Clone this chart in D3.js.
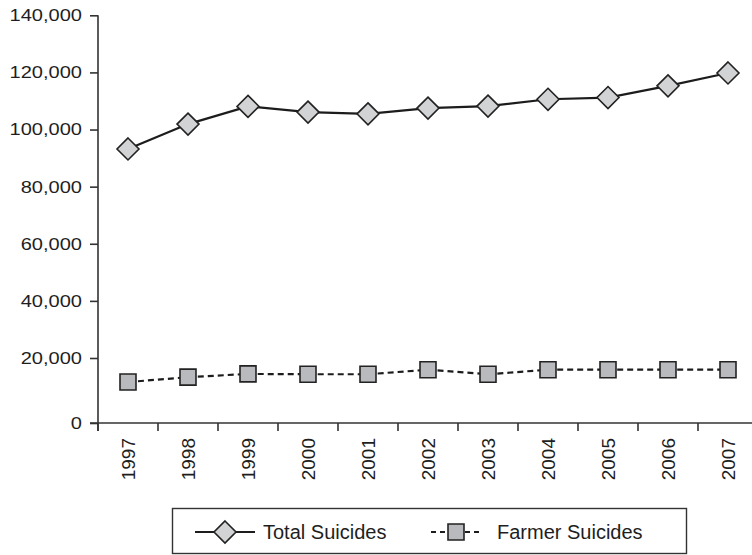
<!DOCTYPE html>
<html>
<head>
<meta charset="utf-8">
<script src="https://cdn.jsdelivr.net/npm/d3@7"></script>
<style>
  html, body { margin: 0; padding: 0; background: #fff; }
  svg { display: block; font-family: "Liberation Sans", Arial, Helvetica, sans-serif; }
</style>
</head>
<body>
<svg id="chart" width="752" height="555"></svg>
<script>
// Suicides in India, 1997–2007
const years = ["1997", "1998", "1999", "2000", "2001", "2002", "2003", "2004", "2005", "2006", "2007"];
const totalSuicides  = [93200, 101900, 108100, 106100, 105500, 107500, 108200, 110600, 111200, 115300, 119800];
const farmerSuicides = [12600, 14100, 15100, 15000, 15000, 16400, 15000, 16400, 16400, 16400, 16400];
const yTicks = [0, 20000, 40000, 60000, 80000, 100000, 120000, 140000];
const seriesNames = ["Total Suicides", "Farmer Suicides"];

const svg = d3.select("#chart");
const ink = "#1e1e1e";
const font = "'Liberation Sans', Arial, Helvetica, sans-serif";

const x = d3.scaleBand().domain(years).range([98, 758]).paddingInner(0).paddingOuter(0);
const bw = x.bandwidth();
const cx = d => x(d) + bw / 2;

// the lowest interval of the value axis is drawn slightly taller than the rest
const y = d3.scaleLinear().domain([0, 20000, 140000]).range([423, 358, 15.3]);

// value axis
const yAxis = d3.axisLeft(y)
  .tickValues(yTicks)
  .tickSize(8)
  .tickPadding(8)
  .tickFormat(d3.format(","));
const gy = svg.append("g").attr("transform", "translate(98,0)").call(yAxis)
  .attr("font-size", 17).attr("font-family", font);
gy.select(".domain").attr("stroke", "#333").attr("stroke-width", 1.6)
  .attr("d", `M0,${y(140000)}V${y(0) + 8}`);
gy.selectAll(".tick line").attr("stroke", "#333").attr("stroke-width", 1.6);
// the value labels are set a little wider than they are tall
gy.selectAll(".tick text")
  .attr("fill", ink)
  .attr("x", null)
  .attr("transform", "translate(-16,0) scale(1.18,1)");

// category axis: ticks sit on the band boundaries, labels in band centres
const gx = svg.append("g").attr("transform", `translate(0,${y(0)})`)
  .attr("font-size", 19).attr("font-family", font);
gx.append("line").attr("x1", 90).attr("x2", 758).attr("y1", 0).attr("y2", 0)
  .attr("stroke", "#333").attr("stroke-width", 1.6);
gx.selectAll("line.tick").data(years).join("line")
  .attr("class", "tick")
  .attr("x1", d => x(d)).attr("x2", d => x(d))
  .attr("y1", 0).attr("y2", 8)
  .attr("stroke", "#333").attr("stroke-width", 1.6);
gx.selectAll("text").data(years).join("text")
  .attr("transform", d => `translate(${cx(d)},15) rotate(-90)`)
  .attr("text-anchor", "end")
  .attr("dy", "0.35em")
  .attr("fill", ink)
  .text(d => d);

// lines
const line = d3.line().x(d => cx(d.year)).y(d => y(d.value));
const totalData = years.map((yr, i) => ({ year: yr, value: totalSuicides[i] }));
const farmerData = years.map((yr, i) => ({ year: yr, value: farmerSuicides[i] }));

svg.append("path").datum(totalData).attr("d", line)
  .attr("fill", "none").attr("stroke", "#1c1c1c").attr("stroke-width", 2.2);
svg.append("path").datum(farmerData).attr("d", line)
  .attr("fill", "none").attr("stroke", "#1c1c1c").attr("stroke-width", 2.2)
  .attr("stroke-dasharray", "6,4");

// markers
const diamond = r => `M0,${-r}L${r},0L0,${r}L${-r},0Z`;
const square = s => `M${-s / 2},${-s / 2}h${s}v${s}h${-s}Z`;

svg.selectAll("path.total").data(totalData).join("path")
  .attr("class", "total")
  .attr("transform", d => `translate(${cx(d.year)},${y(d.value)})`)
  .attr("d", diamond(11))
  .attr("fill", "#d2d3d5").attr("stroke", "#222").attr("stroke-width", 1.6);

svg.selectAll("path.farmer").data(farmerData).join("path")
  .attr("class", "farmer")
  .attr("transform", d => `translate(${cx(d.year)},${y(d.value)})`)
  .attr("d", square(16))
  .attr("fill", "#b9babd").attr("stroke", "#222").attr("stroke-width", 1.6);

// legend
const lg = svg.append("g").attr("font-size", 20).attr("font-family", font);
lg.append("rect").attr("x", 172.5).attr("y", 508.5).attr("width", 514).attr("height", 45)
  .attr("fill", "#fff").attr("stroke", "#333").attr("stroke-width", 1.4);

const ly = 532;
lg.append("line").attr("x1", 195).attr("x2", 255).attr("y1", ly).attr("y2", ly)
  .attr("stroke", "#1c1c1c").attr("stroke-width", 2.2);
lg.append("path").attr("transform", `translate(225,${ly})`).attr("d", diamond(11))
  .attr("fill", "#d2d3d5").attr("stroke", "#222").attr("stroke-width", 1.6);
lg.append("text").attr("x", 263).attr("y", ly).attr("dy", "0.35em")
  .attr("fill", ink).text(seriesNames[0]);

// two short dashes either side of the square key
[[431, 447], [465, 481]].forEach(([a, b]) => {
  lg.append("line").attr("x1", a).attr("x2", b).attr("y1", ly).attr("y2", ly)
    .attr("stroke", "#1c1c1c").attr("stroke-width", 2)
    .attr("stroke-dasharray", "5,4");
});
lg.append("path").attr("transform", `translate(456,${ly})`).attr("d", square(16))
  .attr("fill", "#b9babd").attr("stroke", "#222").attr("stroke-width", 1.6);
lg.append("text").attr("x", 497).attr("y", ly).attr("dy", "0.35em")
  .attr("fill", ink).text(seriesNames[1]);
</script>
</body>
</html>
